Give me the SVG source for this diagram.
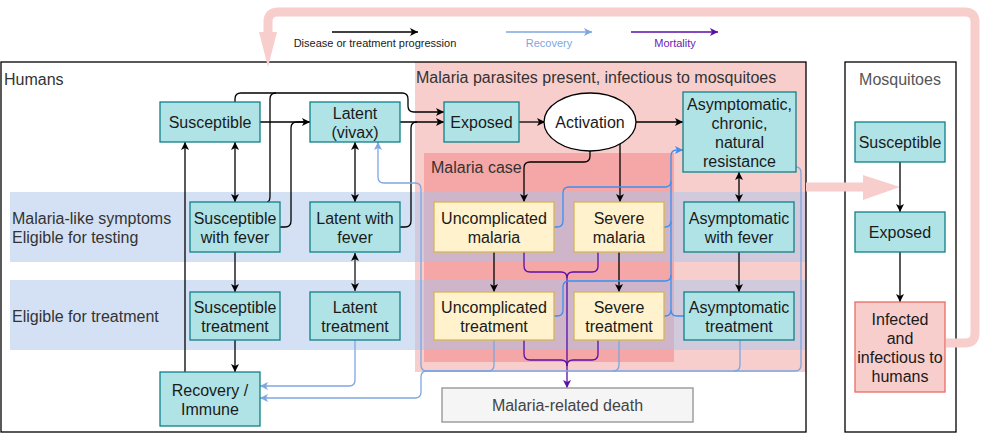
<svg xmlns="http://www.w3.org/2000/svg" width="989" height="433" viewBox="0 0 989 433">
<defs>
<style>
text{font-family:"Liberation Sans",Arial,sans-serif;font-size:16px;fill:#1a1a1a}
.c{text-anchor:middle}
.lbl{fill:#333}
.n{fill:#b0e3e6;stroke:#0e8088;stroke-width:1.3}
.y{fill:#fff2cc;stroke:#d6b656;stroke-width:1.3}
.r{fill:#f8cecc;stroke:#ea6b66;stroke-width:1.3}
.k{fill:none;stroke:#000;stroke-width:1.3}
.g{fill:none;stroke:#666;stroke-width:2}
.lb{fill:none;stroke:#7ea6e0;stroke-width:1.3}
.bb{fill:none;stroke:#3d8ff0;stroke-width:1.3}
.p{fill:none;stroke:#5b0fa8;stroke-width:1.3}
.band{fill:#a9c4eb;opacity:0.5}
.leg{font-size:11px}
</style>
<marker id="ak" viewBox="0 0 10 10" refX="10" refY="5" markerWidth="8" markerHeight="8" markerUnits="userSpaceOnUse" orient="auto-start-reverse"><path d="M0,0 L10,5 L0,10 L2.5,5 z" fill="#000"/></marker>
<marker id="ag" viewBox="0 0 10 10" refX="10" refY="5" markerWidth="8" markerHeight="8" markerUnits="userSpaceOnUse" orient="auto-start-reverse"><path d="M0,0 L10,5 L0,10 L2.5,5 z" fill="#000"/></marker>
<marker id="alb" viewBox="0 0 10 10" refX="10" refY="5" markerWidth="8" markerHeight="8" markerUnits="userSpaceOnUse" orient="auto-start-reverse"><path d="M0,0 L10,5 L0,10 L2.5,5 z" fill="#7ea6e0"/></marker>
<marker id="abb" viewBox="0 0 10 10" refX="10" refY="5" markerWidth="8" markerHeight="8" markerUnits="userSpaceOnUse" orient="auto-start-reverse"><path d="M0,0 L10,5 L0,10 L2.5,5 z" fill="#3d8ff0"/></marker>
<marker id="ap" viewBox="0 0 10 10" refX="10" refY="5" markerWidth="8" markerHeight="8" markerUnits="userSpaceOnUse" orient="auto-start-reverse"><path d="M0,0 L10,5 L0,10 L2.5,5 z" fill="#5b0fa8"/></marker>
</defs>

<g id="backgrounds">
<rect x="1" y="62" width="805" height="370" fill="#fff"/>
<rect x="845" y="62" width="111" height="370" fill="#fff" stroke="#000" stroke-width="1.3"/>
<rect x="415" y="62" width="391" height="310" fill="#f8cecc"/>
<rect x="424" y="153" width="250" height="209" fill="#f4a7a6"/>
<rect class="band" x="10" y="192" width="796" height="70"/>
<rect class="band" x="10" y="280" width="796" height="70"/>
<rect x="1" y="62" width="805" height="370" fill="none" stroke="#000" stroke-width="1.3"/>
<text class="lbl" x="4" y="85">Humans</text>
<text class="lbl" x="416" y="83">Malaria parasites present, infectious to mosquitoes</text>
<text class="lbl" x="431" y="173">Malaria case</text>
<text class="lbl" x="12" y="224">Malaria-like symptoms</text>
<text class="lbl" x="12" y="243">Eligible for testing</text>
<text class="lbl" x="12" y="322">Eligible for treatment</text>
<text class="c" x="900" y="85" fill="#555" style="fill:#555">Mosquitoes</text>
</g>

<g id="transmission">
<path d="M946,343 L965,343 Q975,343 975,333 L975,22 Q975,12 965,12 L278,12 Q268,12 268,22 L268,34" fill="none" stroke="#f8cecc" stroke-width="9"/>
<polygon points="259,32 277,32 268,67" fill="#f8cecc"/>
<path d="M806,187 L866,187" fill="none" stroke="#f8cecc" stroke-width="9"/>
<polygon points="863,175 863,200 900,187" fill="#f8cecc"/>
</g>

<g id="legend">
<path class="k" d="M332,32 L418,32" marker-end="url(#ak)"/>
<text class="c leg" x="375" y="47">Disease or treatment progression</text>
<path class="lb" d="M506,32 L592,32" marker-end="url(#alb)"/>
<text class="c leg" x="549" y="47" style="fill:#7ea6e0">Recovery</text>
<path class="p" d="M631,32 L718,32" marker-end="url(#ap)"/>
<text class="c leg" x="675" y="47" style="fill:#6a22b8">Mortality</text>
</g>

<g id="connectors">
<path class="k" d="M260,122 L310,122" marker-end="url(#ak)"/>
<path class="k" d="M280,227 L285,227 Q291,227 291,221 L291,128 Q291,122 297,122 L310,122"/>
<path class="k" d="M235,102 L235,99 Q235,93 241,93 L402,93 Q408,93 408,99 L408,106 Q408,112 414,112 L444,112" marker-end="url(#ak)"/>
<path class="k" d="M267,202 Q270,202 270,196 L270,99 Q270,93 276,93"/>
<path class="k" d="M400,122 L444,122" marker-end="url(#ak)"/>
<path class="k" d="M400,227 L405,227 Q411,227 411,221 L411,128 Q411,122 417,122"/>
<path class="k" d="M235,142 L235,202" marker-start="url(#ak)" marker-end="url(#ak)"/>
<path class="k" d="M355,142 L355,202" marker-start="url(#ak)" marker-end="url(#ak)"/>
<path class="k" d="M235,252 L235,292" marker-end="url(#ak)"/>
<path class="g" d="M355,253 L355,291" marker-start="url(#ag)" marker-end="url(#ag)"/>
<path class="k" d="M235,340 L235,372" marker-end="url(#ak)"/>
<path class="k" d="M185,372 L185,142" marker-end="url(#ak)"/>
<path class="k" d="M519,122 L545,122" marker-end="url(#ak)"/>
<path class="k" d="M636,122 L683,122" marker-end="url(#ak)"/>
<path class="k" d="M590,151 L590,156 Q590,162 584,162 L530,162 Q524,162 524,168 L524,202" marker-end="url(#ak)"/>
<path class="k" d="M620,144 L620,202" marker-end="url(#ak)"/>
<path class="k" d="M739,172 L739,202" marker-start="url(#ak)" marker-end="url(#ak)"/>
<path class="k" d="M494,252 L494,292" marker-end="url(#ak)"/>
<path class="k" d="M619,252 L619,292" marker-end="url(#ak)"/>
<path class="k" d="M739,252 L739,292" marker-end="url(#ak)"/>
<path class="k" d="M900,162 L900,212" marker-end="url(#ak)"/>
<path class="k" d="M900,252 L900,302" marker-end="url(#ak)"/>

<path class="p" d="M524,252 L524,266 Q524,272 530,272 L561,272 Q567,272 567,278 L567,388" marker-end="url(#ap)"/>
<path class="p" d="M598,252 L598,266 Q598,272 592,272 L573,272 Q567,272 567,278"/>
<path class="p" d="M524,340 L524,354 Q524,360 530,360 L561,360 Q567,360 567,366"/>
<path class="p" d="M598,340 L598,354 Q598,360 592,360 L573,360 Q567,360 567,366"/>

<path class="bb" d="M554,227 L557,227 Q563,227 563,221 L563,193 Q563,187 569,187 L665,187 Q671,187 671,181 L671,156 Q671,150 677,150 L683,150" marker-end="url(#abb)"/>
<path class="bb" d="M664,227 L665,227 Q671,227 671,221 L671,181"/>
<path class="bb" d="M554,316 L557,316 Q563,316 563,310 L563,287 Q563,281 569,281 L665,281 Q671,281 671,275 L671,221"/>
<path class="bb" d="M664,316 L665,316 Q671,316 671,310 L671,275"/>
<path class="bb" d="M684,316 L677,316 Q671,316 671,310"/>

<path class="lb" d="M355,340 L355,380 Q355,386 349,386 L260,386" marker-end="url(#alb)"/>
<path class="lb" d="M494,340 L494,365 Q494,371 488,371 L427,371 Q421,371 421,365 L421,189 Q421,183 415,183 L384,183 Q378,183 378,177 L378,142" marker-end="url(#alb)"/>
<path class="lb" d="M619,340 L619,365 Q619,371 613,371 L427,371 Q421,371 421,377 L421,392 Q421,398 415,398 L260,398" marker-end="url(#alb)"/>
<path class="lb" d="M740,340 L740,365 Q740,371 734,371 L613,371"/>
<path class="lb" d="M796,167 Q801,167 801,173 L801,365 Q801,371 795,371 L734,371"/>
</g>

<g id="n-susceptible"><rect class="n" x="160" y="102" width="100" height="40"/><text class="c" x="210" y="127.5">Susceptible</text></g>
<g id="n-latent"><rect class="n" x="310" y="102" width="90" height="40"/><text class="c" x="355" y="118.5">Latent</text><text class="c" x="355" y="137.5">(vivax)</text></g>
<g id="n-exposed"><rect class="n" x="444" y="102" width="75" height="40"/><text class="c" x="481.5" y="127.5">Exposed</text></g>
<g id="n-activation"><ellipse cx="590" cy="122" rx="46" ry="29" fill="#fff" stroke="#000" stroke-width="1.3"/><text class="c" x="590" y="127.5">Activation</text></g>
<g id="n-asym-chronic"><rect class="n" x="683" y="92" width="113" height="80"/><text class="c" x="739.5" y="109.5">Asymptomatic,</text><text class="c" x="739.5" y="128.5">chronic,</text><text class="c" x="739.5" y="147.5">natural</text><text class="c" x="739.5" y="166.5">resistance</text></g>
<g id="n-susc-fever"><rect class="n" x="190" y="202" width="90" height="50"/><text class="c" x="235" y="223.5">Susceptible</text><text class="c" x="235" y="242.5">with fever</text></g>
<g id="n-latent-fever"><rect class="n" x="310" y="202" width="90" height="50"/><text class="c" x="355" y="223.5">Latent with</text><text class="c" x="355" y="242.5">fever</text></g>
<g id="n-unc-malaria"><rect class="y" x="434" y="202" width="120" height="50"/><text class="c" x="494" y="223.5">Uncomplicated</text><text class="c" x="494" y="242.5">malaria</text></g>
<g id="n-sev-malaria"><rect class="y" x="574" y="202" width="90" height="50"/><text class="c" x="619" y="223.5">Severe</text><text class="c" x="619" y="242.5">malaria</text></g>
<g id="n-asym-fever"><rect class="n" x="684" y="202" width="110" height="50"/><text class="c" x="739" y="223.5">Asymptomatic</text><text class="c" x="739" y="242.5">with fever</text></g>
<g id="n-susc-treat"><rect class="n" x="190" y="292" width="90" height="48"/><text class="c" x="235" y="312.5">Susceptible</text><text class="c" x="235" y="331.5">treatment</text></g>
<g id="n-latent-treat"><rect class="n" x="310" y="292" width="90" height="48"/><text class="c" x="355" y="312.5">Latent</text><text class="c" x="355" y="331.5">treatment</text></g>
<g id="n-unc-treat"><rect class="y" x="434" y="292" width="120" height="48"/><text class="c" x="494" y="312.5">Uncomplicated</text><text class="c" x="494" y="331.5">treatment</text></g>
<g id="n-sev-treat"><rect class="y" x="574" y="292" width="90" height="48"/><text class="c" x="619" y="312.5">Severe</text><text class="c" x="619" y="331.5">treatment</text></g>
<g id="n-asym-treat"><rect class="n" x="684" y="292" width="110" height="48"/><text class="c" x="739" y="312.5">Asymptomatic</text><text class="c" x="739" y="331.5">treatment</text></g>
<g id="n-recovery"><rect class="n" x="160" y="372" width="100" height="54"/><text class="c" x="210" y="395.5">Recovery /</text><text class="c" x="210" y="414.5">Immune</text></g>
<g id="n-death"><rect x="442" y="388" width="251" height="34" fill="#f5f5f5" stroke="#9e9e9e" stroke-width="1.5"/><text class="c" x="567.5" y="410.5" style="fill:#444">Malaria-related death</text></g>
<g id="m-susceptible"><rect class="n" x="855" y="122" width="90" height="40"/><text class="c" x="900" y="147.5">Susceptible</text></g>
<g id="m-exposed"><rect class="n" x="855" y="212" width="90" height="40"/><text class="c" x="900" y="237.5">Exposed</text></g>
<g id="m-infected"><rect class="r" x="855" y="302" width="90" height="90"/><text class="c" x="900" y="325">Infected</text><text class="c" x="900" y="344">and</text><text class="c" x="900" y="363">infectious to</text><text class="c" x="900" y="382">humans</text></g>
</svg>
